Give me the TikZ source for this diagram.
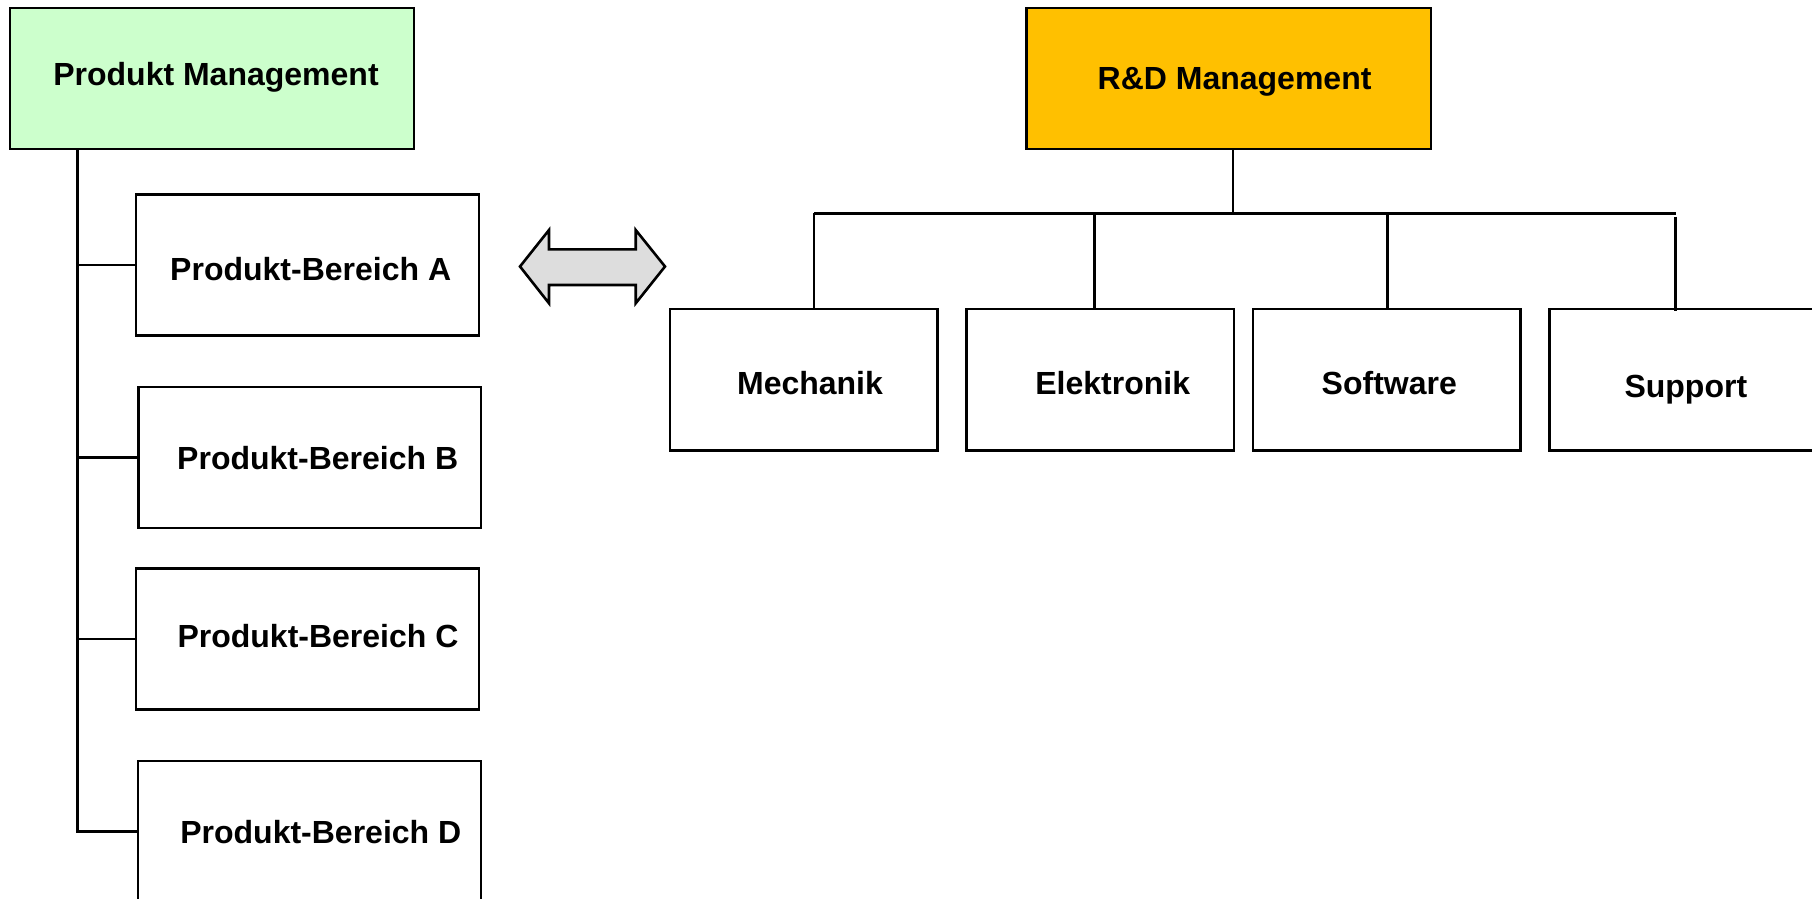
\documentclass[tikz,border=0pt]{standalone}
\usepackage{fontspec}
\setmainfont{Liberation Sans}
\usetikzlibrary{calc}
\definecolor{pmgreen}{HTML}{CCFFCC}
\definecolor{rdorange}{HTML}{FFC000}
\definecolor{arrowgray}{HTML}{DDDDDD}
\begin{document}
\begin{tikzpicture}[x=1pt,y=-1pt,
  orgbox/.style={draw=black, line width=2.8pt, rectangle, inner sep=0pt,
    minimum height=141pt},
  lbl/.style={anchor=base, inner sep=0pt, font=\fontsize{32}{38}\selectfont\bfseries},
  link/.style={line width=2.7pt, draw=black},
  dblarrow/.style={draw=black, line width=2.6pt, fill=arrowgray, line join=miter}]

\fill[white] (0,0) rectangle (1812,899);
\useasboundingbox (0,0) rectangle (1812,899);

% --- product management column ---
\node[orgbox, fill=pmgreen, minimum width=404pt] (pm) at (212,78.5) {};
\node[orgbox, minimum width=343pt] (pa) at (307.5,265) {};
\node[orgbox, minimum width=342.5pt] (pb) at (309.75,457.5) {};
\node[orgbox, minimum width=343pt] (pc) at (307.5,639) {};
\node[orgbox, minimum width=343pt] (pd) at (309.5,831.5) {};

\node[lbl] (pmT) at (216,85) {Produkt Management};
\node[lbl] (paT) at (310.7,280) {Produkt-Bereich A};
\node[lbl] (pbT) at (317.7,469) {Produkt-Bereich B};
\node[lbl] (pcT) at (318,647) {Produkt-Bereich C};
\node[lbl] (pdT) at (320.8,843) {Produkt-Bereich D};

\coordinate (trunkend) at (77.3,833);
\draw[link] (pm.south -| trunkend) -- (trunkend);
\draw[link] (pa.west) -- (pa.west -| trunkend);
\draw[link] (pb.west) -- (pb.west -| trunkend);
\draw[link] (pc.west) -- (pc.west -| trunkend);
\draw[link] (pd.west) -- (pd.west -| trunkend);

% --- two-way exchange arrow ---
\draw[dblarrow] (520,266.5) -- (549,230) -- (549,249.3) -- (635.7,249.3)
  -- (635.7,230) -- (665,266.5) -- (635.7,303.3) -- (635.7,285)
  -- (549,285) -- (549,303.3) -- cycle;

% --- R&D organisation ---
\node[orgbox, fill=rdorange, minimum width=404.5pt] (rd) at (1228.75,78.5) {};
\node[orgbox, minimum width=267.5pt, minimum height=141.5pt] (me) at (803.75,379.75) {};
\node[orgbox, minimum width=267.5pt, minimum height=141.5pt] (el) at (1100.25,379.75) {};
\node[orgbox, minimum width=267.5pt, minimum height=141.5pt] (sw) at (1386.75,379.75) {};
\node[orgbox, minimum width=267.5pt, minimum height=141.5pt] (su) at (1683.25,379.75) {};

\node[lbl] (rdT) at (1234.6,89) {R\&D Management};
\node[lbl] (meT) at (810,394) {Mechanik};
\node[lbl] (elT) at (1112.7,394) {Elektronik};
\node[lbl] (swT) at (1389.3,394) {Software};
\node[lbl] (suT) at (1685.8,397) {Support};

\coordinate (hub) at (1232.7,213.3);
\coordinate (busL) at (814,213.3);
\coordinate (busR) at (1675.7,213.3);
\coordinate (dEl) at (1094.4,213.3);
\coordinate (dSw) at (1387.4,213.3);
\coordinate (dSu) at (1675.7,216.7);

\draw[line width=2.2pt] (hub |- rd.south) -- (hub);
\draw[link, line width=3pt] (busL) -- (busR);
\draw[link] (busL) -- (busL |- me.north);
\draw[link] (dEl) -- (dEl |- el.north);
\draw[link] (dSw) -- (dSw |- sw.north);
\draw[link] (dSu) -- ($(dSu |- su.north)+(0,3.7)$);
\end{tikzpicture}
\end{document}
